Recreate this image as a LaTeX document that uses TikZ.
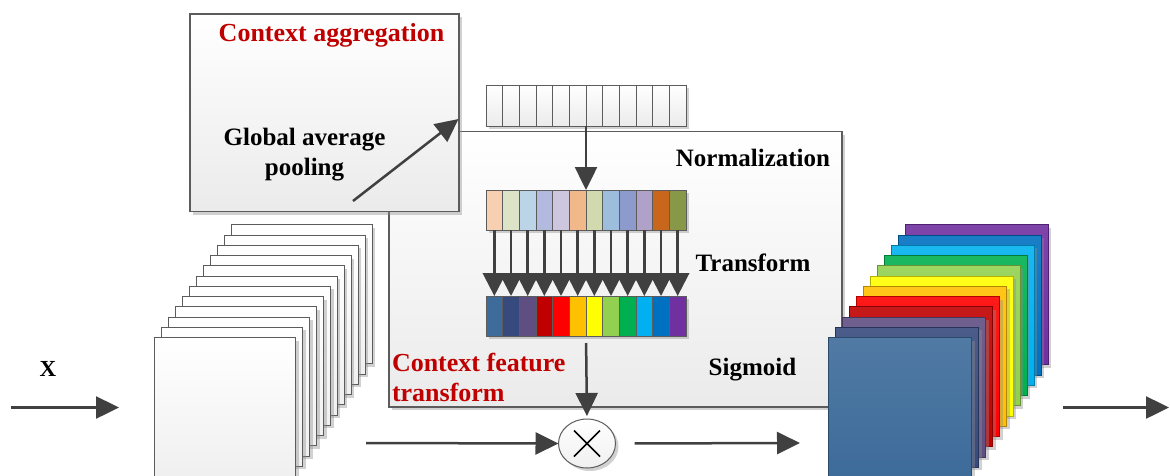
\documentclass[tikz,border=0pt]{standalone}
\usepackage{fontspec}
\setmainfont{Liberation Serif}
\usetikzlibrary{arrows.meta,shapes.geometric,shadows}

% line and text colours
\definecolor{ink}{HTML}{404040}
\definecolor{rim}{HTML}{5C5C5C}
\definecolor{crimson}{HTML}{C00000}

% normalised vector (pastel)
\definecolor{p0}{HTML}{F6D0B0}
\definecolor{p1}{HTML}{DCE3C6}
\definecolor{p2}{HTML}{BCD4E8}
\definecolor{p3}{HTML}{B2BADF}
\definecolor{p4}{HTML}{CEC5DE}
\definecolor{p5}{HTML}{F1B98A}
\definecolor{p6}{HTML}{D1DAAE}
\definecolor{p7}{HTML}{9CBEDC}
\definecolor{p8}{HTML}{8C9BCB}
\definecolor{p9}{HTML}{B0A1C8}
\definecolor{p10}{HTML}{C8661C}
\definecolor{p11}{HTML}{879849}

% sigmoid output vector / output feature maps
\definecolor{s0}{HTML}{3D6B9A}
\definecolor{s1}{HTML}{374A7E}
\definecolor{s2}{HTML}{5F4E82}
\definecolor{s3}{HTML}{C00000}
\definecolor{s4}{HTML}{FF0000}
\definecolor{s5}{HTML}{FFC000}
\definecolor{s6}{HTML}{FFFF00}
\definecolor{s7}{HTML}{92D050}
\definecolor{s8}{HTML}{00B050}
\definecolor{s9}{HTML}{00B0F0}
\definecolor{s10}{HTML}{0070C0}
\definecolor{s11}{HTML}{7030A0}

\begin{document}
\begin{tikzpicture}[x=1pt,y=-1pt,
  every node/.style={inner sep=0pt,outer sep=0pt},
  softshadow/.style={drop shadow={shadow xshift=3pt,shadow yshift=-3pt,fill=black!45,opacity=.4}},
  panel/.style={draw=rim,line width=1.2pt,top color=white,bottom color=black!8,softshadow,anchor=north west},
  cell/.style={draw=rim,line width=1pt,minimum width=16.667pt,minimum height=40pt,anchor=north west,softshadow},
  sheetw/.style={draw=rim,line width=1pt,top color=white,bottom color=black!6,minimum width=141pt,minimum height=139pt,anchor=north west,softshadow},
  sheetc/.style={line width=1pt,minimum width=143pt,minimum height=140pt,anchor=north west,softshadow},
  txt/.style={font=\fontsize{25}{30}\selectfont\bfseries},
  redtxt/.style={font=\fontsize{26}{30}\selectfont\bfseries,text=crimson},
  arr/.style={draw=ink,line width=2.5pt,-{Triangle[length=23pt,width=22pt]}},
  arrs/.style={draw=ink,line width=2.6pt,-{Triangle[length=23pt,width=23pt]}},
]
\useasboundingbox (0,0) rectangle (1170,475);
\clip (0,0) rectangle (1170,475);

% context feature transform panel and context aggregation panel
\node[panel,minimum width=453pt,minimum height=275.5pt] (cft) at (389,131.5) {};
\node[panel,minimum width=269pt,minimum height=197.5pt] (agg) at (190,14) {};

% pooled vector
\foreach \i in {0,...,11}
  \node[cell,top color=white,bottom color=black!8,minimum height=41pt] (t\i) at (486+16.667*\i,85) {};

% normalised vector
\foreach \i in {0,...,11}
  \node[cell,fill=p\i] (a\i) at (486+16.667*\i,190) {};

% sigmoid vector
\foreach \i in {0,...,11}
  \node[cell,fill=s\i] (b\i) at (486+16.667*\i,296) {};

% input feature maps
\foreach \k in {11,...,0}
  \node[sheetw] (w\k) at (154.7+6.96*\k,337.7-10.27*\k) {};

% reweighted output feature maps
\foreach \k in {11,...,0}
  \node[sheetc,top color=s\k!90!white,bottom color=s\k,draw=s\k!70!black] (f\k) at (828.7+6.96*\k,337.7-10.27*\k) {};

% multiplication
\node[ellipse,draw=rim,line width=1pt,top color=white,bottom color=black!6,softshadow,
      minimum width=57pt,minimum height=49pt] (mul) at (587,443.5) {};
\draw[line width=1.6pt,black] ([shift={(-13,-13)}]mul.center) -- ([shift={(13,13)}]mul.center)
                               ([shift={(-13,13)}]mul.center) -- ([shift={(13,-13)}]mul.center);

% labels
\node[redtxt,anchor=base] (ttlagg) at (331.5,41.7) {Context aggregation};
\node[txt,anchor=base] (gap1) at (304.5,145) {Global average};
\node[txt,anchor=base] (gap2) at (304.5,175) {pooling};
\node[txt,anchor=base] (nrm) at (753,166.5) {Normalization};
\node[txt,anchor=base] (trf) at (753,271) {Transform};
\node[txt,anchor=base] (sig) at (752.5,375) {Sigmoid};
\node[redtxt,anchor=base west] (cft1) at (392,371.5) {Context feature};
\node[redtxt,anchor=base west] (cft2) at (392,401.5) {transform};
\node[font=\fontsize{23}{28}\selectfont\bfseries,anchor=base] (xin) at (48,376.5) {X};

% connector end points
\coordinate (gapS) at (353,201);
\coordinate (gapE) at (458.5,119);
\coordinate (inS) at (11,407.5);
\coordinate (inE) at (119,407.5);
\coordinate (skipS) at (366,443);
\coordinate (mulOut) at (800,443);
\coordinate (outS) at (1063,407.5);
\coordinate (outE) at (1169,407.5);

% connectors
\draw[arr] (gapS) -- (gapE);
\draw[arr] (t5.south east) -- (a5.north east);
\foreach \i in {0,...,11}
  \draw[arrs] (a\i.south) -- (b\i.north);
\draw[arr,shorten <=7pt,shorten >=3pt] (b5.south east) -- (mul.north);
\draw[arr] (inS) -- (inE);
\draw[arr] (skipS) -- (mul.west);
\draw[arr,shorten <=19pt] (mul.east) -- (mulOut);
\draw[arr] (outS) -- (outE);
\end{tikzpicture}
\end{document}
